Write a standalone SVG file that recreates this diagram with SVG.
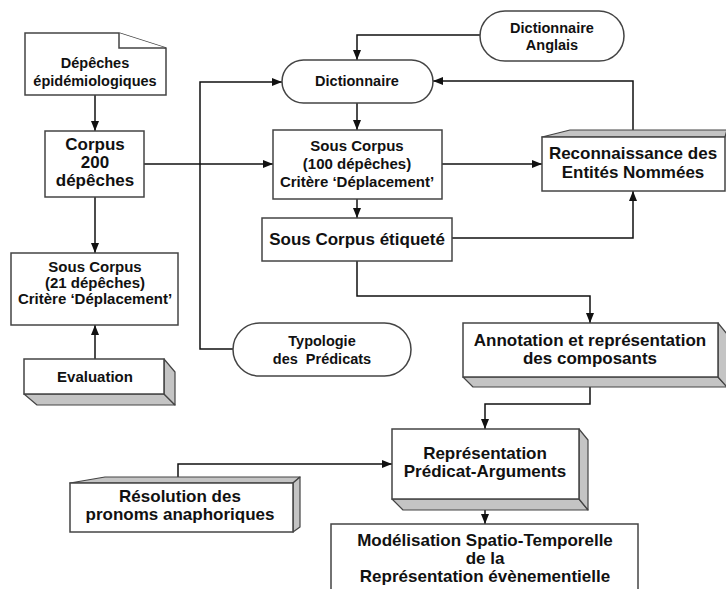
<svg xmlns="http://www.w3.org/2000/svg" width="726" height="589" viewBox="0 0 726 589">
<style>
.box{fill:#fff;stroke:#444;stroke-width:1.5}
.sh{fill:#c4c4c4;stroke:#444;stroke-width:1.2;stroke-linejoin:round}
.t{font-family:"Liberation Sans",Arial,sans-serif;font-weight:bold;fill:#111;text-anchor:middle}
.s14{font-size:14.5px}
.s15{font-size:15px}
.s17{font-size:17px}
.c{fill:none;stroke:#111;stroke-width:1.5}
.ca{fill:none;stroke:#111;stroke-width:1.5;marker-end:url(#ah)}
</style>
<defs>
<marker id="ah" markerUnits="userSpaceOnUse" markerWidth="10" markerHeight="10" viewBox="0 0 10 10" refX="10" refY="5" orient="auto">
<path d="M0,1 L10,5 L0,9 Z" fill="#111"/>
</marker>
</defs>
<rect width="726" height="589" fill="#fff"/>

<g id="connectors">
<path class="ca" d="M95,95 V131"/>
<path class="ca" d="M95,197 V253"/>
<path class="ca" d="M95,359 V325"/>
<path class="ca" d="M144,164 H273"/>
<path class="ca" d="M233,349 H200 V82 H282"/>
<path class="ca" d="M480,35 H357 V60"/>
<path class="ca" d="M633,130 V81 H433"/>
<path class="ca" d="M357,103 V130"/>
<path class="ca" d="M442,164 H542"/>
<path class="ca" d="M357,199 V218"/>
<path class="ca" d="M452,238 H633 V191"/>
<path class="ca" d="M357,261 V296 H590 V323"/>
<path class="ca" d="M590,387 V404 H485 V429"/>
<path class="ca" d="M178,483 V464 H392"/>
<path class="ca" d="M485,510 V524"/>
</g>

<g id="depeches">
<path class="box" d="M25,33 H119 L166,48 V95 H25 Z"/>
<path class="box" d="M119,33 V48 H166" fill="none"/>
<text class="t s14" x="95" y="68">Dépêches</text>
<text class="t s14" x="95" y="86">épidémiologiques</text>
</g>

<g id="corpus">
<rect class="box" x="45" y="131" width="99" height="66"/>
<text class="t s17" x="95" y="150">Corpus</text>
<text class="t s17" x="95" y="168">200</text>
<text class="t s17" x="95" y="186">dépêches</text>
</g>

<g id="souscorpus21">
<rect class="box" x="11" y="253" width="167" height="72"/>
<text class="t s15" x="95" y="272">Sous Corpus</text>
<text class="t s15" x="95" y="288">(21 dépêches)</text>
<text class="t s15" x="95" y="304">Critère ‘Déplacement’</text>
</g>

<g id="evaluation">
<path class="sh" d="M24,394 L37,405 H175 L164,394 Z"/>
<path class="sh" d="M164,359 L175,372 V405 L164,394 Z"/>
<rect class="box" x="24" y="359" width="140" height="35"/>
<text class="t s15" x="95" y="382">Evaluation</text>
</g>

<g id="dicoanglais">
<rect class="box" x="480" y="11" width="144" height="50" rx="25" ry="25"/>
<text class="t s14" x="552" y="33">Dictionnaire</text>
<text class="t s14" x="552" y="50">Anglais</text>
</g>

<g id="dictionnaire">
<rect class="box" x="282" y="60" width="151" height="43" rx="21.5" ry="21.5"/>
<text class="t s14" x="357" y="86">Dictionnaire</text>
</g>

<g id="souscorpus100">
<rect class="box" x="273" y="130" width="169" height="69"/>
<text class="t s15" x="357" y="151">Sous Corpus</text>
<text class="t s15" x="357" y="169">(100 dépêches)</text>
<text class="t s15" x="357" y="187">Critère ‘Déplacement’</text>
</g>

<g id="reconnaissance">
<path class="sh" d="M542,137 L570,130 H727 L725,137 Z"/>
<rect class="box" x="542" y="137" width="183" height="54"/>
<text class="t s17" x="633" y="159">Reconnaissance des</text>
<text class="t s17" x="633" y="178">Entités Nommées</text>
</g>

<g id="etiquete">
<rect class="box" x="262" y="218" width="190" height="43"/>
<text class="t s17" x="357" y="245">Sous Corpus étiqueté</text>
</g>

<g id="typologie">
<rect class="box" x="233" y="323" width="178" height="53" rx="26.5" ry="26.5"/>
<text class="t s14" x="322" y="346">Typologie</text>
<text class="t s14" x="322" y="364" xml:space="preserve">des  Prédicats</text>
</g>

<g id="annotation">
<path class="sh" d="M463,377 L473,387 H727 L718,377 Z"/>
<path class="sh" d="M718,323 L727,334 V387 L718,377 Z"/>
<rect class="box" x="463" y="323" width="255" height="54"/>
<text class="t s17" x="590" y="346">Annotation et représentation</text>
<text class="t s17" x="590" y="364">des composants</text>
</g>

<g id="representation">
<path class="sh" d="M392,499 L403,510 H588 L579,499 Z"/>
<path class="sh" d="M579,429 L588,440 V510 L579,499 Z"/>
<rect class="box" x="392" y="429" width="187" height="70"/>
<text class="t s17" x="485" y="459">Représentation</text>
<text class="t s17" x="485" y="477">Prédicat-Arguments</text>
</g>

<g id="resolution">
<path class="sh" d="M70,483 L105,477 H300 L293,483 Z"/>
<path class="sh" d="M293,483 L300,477 V527 L293,532 Z"/>
<rect class="box" x="70" y="483" width="223" height="49"/>
<text class="t s17" x="180" y="502">Résolution des</text>
<text class="t s17" x="180" y="520">pronoms anaphoriques</text>
</g>

<g id="modelisation">
<rect class="box" x="331" y="524" width="307" height="80"/>
<text class="t s17" x="485" y="546">Modélisation Spatio-Temporelle</text>
<text class="t s17" x="485" y="564">de la</text>
<text class="t s17" x="485" y="582">Représentation évènementielle</text>
</g>
</svg>
